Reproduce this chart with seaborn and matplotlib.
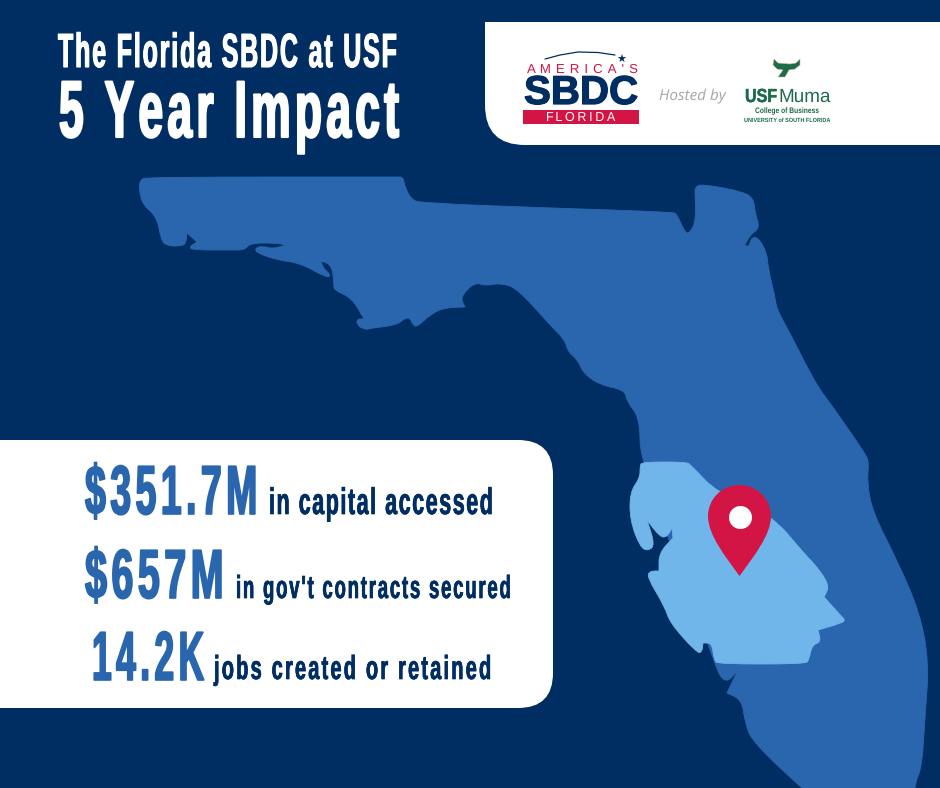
import matplotlib
matplotlib.use("Agg")
from matplotlib import pyplot as plt, font_manager as fm, patheffects as pe
from matplotlib.patches import FancyBboxPatch, PathPatch, Polygon, Rectangle
from matplotlib.path import Path
from fontTools.ttLib import TTFont
import seaborn as sns

title_lines = ["The Florida SBDC at USF", "5 Year Impact"]
stat_values = ["$351.7M", "$657M", "14.2K"]
stat_labels = ["in capital accessed", "in gov't contracts secured", "jobs created or retained"]

# outlines, in image pixels (a repeated point keeps a tip sharp)
state_x = [140, 147, 398, 403, 405, 411, 420, 550, 672, 677, 685, 690, 696, 695, 695, 702, 745, 754, 755, 760, 750, 745, 745, 749, 751, 758, 767, 768, 775, 777, 790, 807, 820, 828, 865, 869, 867, 873, 897, 920, 929, 925, 922, 915, 914, 914, 815, 815, 753, 745, 742, 727, 727, 738, 738, 728, 720, 715, 640, 640, 627, 625, 600, 583, 578, 568, 565, 550, 517, 500, 485, 475, 460, 465, 465, 443, 430, 417, 413, 410, 405, 397, 372, 365, 357, 357, 364, 364, 352, 334, 334, 332, 321, 321, 323, 331, 327, 300, 277, 257, 255, 263, 273, 285, 285, 277, 250, 245, 230, 193, 189, 197, 197, 187, 187, 186, 182, 167, 161, 157, 143, 139]
state_y = [180, 177, 177, 177, 187, 199, 203, 208, 212, 214, 233, 233, 220, 195, 187, 184, 192, 200, 213, 228, 235, 245, 245, 247, 238, 237, 253, 267, 297, 310, 333, 367, 390, 400, 453, 462, 483, 513, 560, 613, 663, 717, 767, 783, 800, 800, 800, 800, 743, 723, 700, 693, 693, 670, 670, 682, 677, 663, 463, 418, 402, 390, 385, 373, 360, 352, 340, 325, 288, 283, 286, 282, 297, 307, 307, 308, 315, 327, 325, 318, 318, 325, 328, 330, 325, 319, 319, 319, 298, 290, 285, 265, 261, 261, 268, 275, 278, 263, 260, 253, 248, 246, 249, 245, 245, 243, 243, 250, 250, 250, 247, 242, 242, 233, 233, 243, 246, 246, 240, 217, 205, 190]
region_x = [640, 642, 686, 691, 717, 770, 807, 813, 830, 824, 824, 842, 845, 842, 818, 818, 821, 812, 809, 805, 718, 714, 712, 703, 703, 702, 697, 670, 665, 647, 650, 659, 659, 659, 673, 673, 672, 672, 667, 660, 647, 647, 655, 648, 640, 630, 630, 640]
region_y = [466, 462, 462, 465, 493, 513, 557, 562, 585, 597, 597, 617, 620, 623, 630, 630, 642, 645, 660, 664, 664, 660, 643, 643, 643, 652, 653, 623, 607, 577, 571, 571, 571, 553, 538, 538, 528, 528, 537, 537, 520, 520, 545, 551, 547, 520, 492, 478]
horn_x = [774, 778, 790, 796, 800, 800, 795, 789, 785, 778, 783, 777, 773]
horn_y = [59, 63, 64, 63, 59, 65, 69, 70, 77, 77, 70, 69, 65]

NAVY = "#002d62"
BLUE = "#2a66ae"
LIGHT = "#70b6ea"
RED = "#d31545"
GREEN = "#1c6b4a"

sns.set_theme(style="white")
plt.rcParams["text.hinting"] = "no_hinting"


def narrow_font(k, track=0, weight="bold"):
    # no condensed face installed, so squeeze Liberation Sans sideways into a new ttf
    # k is the horizontal scale, track is extra letter spacing in font units
    src = fm.findfont(fm.FontProperties(family="Liberation Sans", weight=weight))
    font = TTFont(src)
    glyf = font["glyf"]
    for name in glyf.keys():
        g = glyf[name]
        if g.isComposite():
            for c in g.components:
                c.x = round(c.x * k)
        elif g.numberOfContours > 0:
            g.coordinates.scale((k, 1))
            g.coordinates.toInt()
        if g.numberOfContours != 0:
            g.recalcBounds(glyf)
    hmtx = font["hmtx"]
    for name in hmtx.metrics:
        adv, lsb = hmtx.metrics[name]
        hmtx.metrics[name] = (round(adv * k) + track, round(lsb * k))
    for tag in ["kern", "GPOS", "GSUB", "fpgm", "prep", "cvt "]:
        if tag in font:
            del font[tag]
    fname = f"narrow_{weight}_{int(k * 100)}_{track}.ttf"
    font.save(fname)
    return fm.FontProperties(fname=fname)


def smooth(xs, ys):
    # quadratic curve through edge midpoints, the listed points act as controls
    n = len(xs)
    mids = [((xs[i] + xs[(i + 1) % n]) / 2, (ys[i] + ys[(i + 1) % n]) / 2) for i in range(n)]
    verts = [mids[-1]]
    codes = [Path.MOVETO]
    for i in range(n):
        verts += [(xs[i], ys[i]), mids[i]]
        codes += [Path.CURVE3, Path.CURVE3]
    return Path(verts, codes)


def fat(width, color):
    return [pe.withStroke(linewidth=width, foreground=color)]


fig = plt.figure(figsize=(9.4, 7.88), dpi=100, facecolor=NAVY)
ax = fig.add_axes([0, 0, 1, 1], facecolor=NAVY)
ax.set_xlim(0, 940)
ax.set_ylim(788, 0)
ax.axis("off")

# map
ax.add_patch(PathPatch(smooth(state_x, state_y), fc=BLUE, ec=BLUE, lw=0.6))
ax.add_patch(PathPatch(smooth(region_x, region_y), fc=LIGHT, ec=LIGHT, lw=0.6))

# pin
pin = Path([(739.5, 576), (725, 556), (708, 535), (708, 516), (708, 499), (722, 485), (739.5, 485),
            (757, 485), (771, 499), (771, 516), (771, 535), (754, 556), (739.5, 576)],
           [Path.MOVETO] + [Path.CURVE4] * 12)
ax.add_patch(PathPatch(pin, fc=RED, ec="none"))
sns.scatterplot(x=[740], y=[517], s=275, color="white", edgecolor="white", linewidth=0, ax=ax, zorder=5)

# logo card
card = Path([(485, 22), (950, 22), (950, 145), (525, 145), (485, 145), (485, 105), (485, 22)],
            [Path.MOVETO, Path.LINETO, Path.LINETO, Path.LINETO, Path.CURVE3, Path.CURVE3, Path.LINETO])
ax.add_patch(PathPatch(card, fc="white", ec="none"))

ax.add_patch(Rectangle((523, 110), 115.5, 13.5, fc=RED, ec="none"))
ax.text(546, 121, "FLORIDA", color="white", fontproperties=narrow_font(1.0, 440, "normal"), fontsize=9, ha="left", va="baseline")
ax.text(527, 73, "AMERICA'S", color=RED, fontproperties=narrow_font(1.0, 777, "normal"), fontsize=9.5, ha="left", va="baseline")
ax.text(524, 104, "SBDC", color=NAVY, fontsize=29, fontweight="bold", ha="left", va="baseline", family="Liberation Sans", path_effects=fat(0.9, NAVY))
ax.plot([545, 560, 578, 598, 615], [59, 55, 52, 52.5, 55], color=NAVY, lw=0.9)
ax.text(621, 60, "★", color=NAVY, fontsize=8, ha="center", va="center", family="DejaVu Sans")
ax.text(692.5, 96, "Hosted by", color="#a6a6a6", fontsize=11, style="italic", ha="center", va="center", family="Open Sans")
ax.add_patch(Polygon(list(zip(horn_x, horn_y)), closed=True, fc=GREEN, ec="#c8b98a", lw=0.4, joinstyle="round"))
ax.text(745, 102, "USF", color=GREEN, fontproperties=narrow_font(0.85), fontsize=13.6, ha="left", va="baseline", path_effects=fat(0.3, GREEN))
ax.text(778, 102, "Muma", color=GREEN, fontproperties=narrow_font(1.0, 0, "normal"), fontsize=13.6, ha="left", va="baseline")
ax.text(787, 111, "College of Business", color=GREEN, fontproperties=narrow_font(0.8), fontsize=6, ha="center", va="center")
ax.text(787, 120.5, "UNIVERSITY of SOUTH FLORIDA", color=GREEN, fontsize=4, fontweight="bold", ha="center", va="center", family="Liberation Sans")

# title
ax.text(58, 67, title_lines[0], color="white", fontproperties=narrow_font(0.52, 80), fontsize=34.5, ha="left", va="baseline", path_effects=fat(0.8, "white"))
ax.text(59, 137, title_lines[1], color="white", fontproperties=narrow_font(0.55, 110), fontsize=58, ha="left", va="baseline", path_effects=fat(1.5, "white"))

# stats card
ax.add_patch(FancyBboxPatch((-60, 475), 578, 198, boxstyle="round,pad=35,rounding_size=35", fc="white", ec="none"))
value_x = [85, 85, 92]
value_y = [514, 598, 680]
value_k = [0.54, 0.57, 0.51]
label_x = [269, 236, 214]
label_y = [514, 598, 679]
label_size = [26.7, 23, 24]
label_k = [0.58, 0.58, 0.6]
label_track = [85, 115, 135]
for i in range(3):
    ax.text(value_x[i], value_y[i], stat_values[i], color=BLUE, fontproperties=narrow_font(value_k[i], 130), fontsize=50, ha="left", va="baseline", path_effects=fat(1.2, BLUE))
    ax.text(label_x[i], label_y[i], stat_labels[i], color=NAVY, fontproperties=narrow_font(label_k[i], label_track[i]), fontsize=label_size[i], ha="left", va="baseline", path_effects=fat(0.5, NAVY))

fig.savefig("out.png", dpi=100, facecolor=NAVY)
